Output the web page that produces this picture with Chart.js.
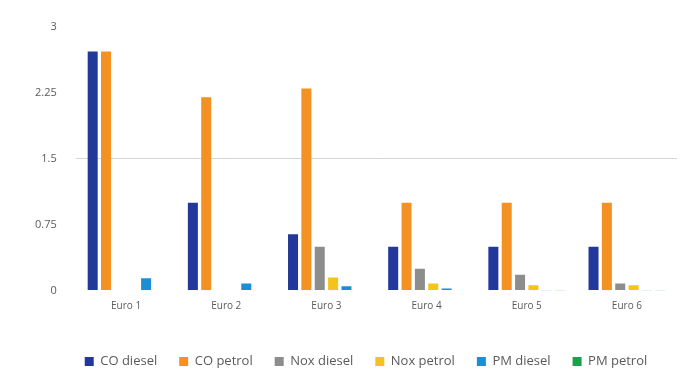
<!DOCTYPE html>
<html>
<head>
<meta charset="utf-8">
<script src="https://cdn.jsdelivr.net/npm/chart.js@4"></script>
<style>
	html, body { margin: 0; padding: 0; background: #ffffff; }
	canvas { display: block; }
</style>
</head>
<body>
<canvas id="Chart" width="696" height="382"></canvas>
<script>
var categories = ["Euro 1", "Euro 2", "Euro 3", "Euro 4", "Euro 5", "Euro 6"];
var yTicks = [0, 0.75, 1.5, 2.25, 3];
var yTickLabels = ["0", "0.75", "1.5", "2.25", "3"];

var coDiesel = [2.72, 1.0, 0.64, 0.5, 0.5, 0.5];
var coPetrol = [2.72, 2.2, 2.3, 1.0, 1.0, 1.0];
var noxDiesel = [null, null, 0.5, 0.25, 0.18, 0.08];
var noxPetrol = [null, null, 0.15, 0.08, 0.06, 0.06];
var pmDiesel = [0.14, 0.08, 0.05, 0.025, 0.005, 0.005];
var pmPetrol = [null, null, null, null, 0.005, 0.005];

var series = [
	{label: "CO diesel", data: coDiesel, color: "#22389a"},
	{label: "CO petrol", data: coPetrol, color: "#f39123"},
	{label: "Nox diesel", data: noxDiesel, color: "#8d8d8d"},
	{label: "Nox petrol", data: noxPetrol, color: "#f5c419"},
	{label: "PM diesel", data: pmDiesel, color: "#1b8ed6"},
	{label: "PM petrol", data: pmPetrol, color: "#1aa14a"}
];

var textColor = "#5a5a5a";
var family = "'Open Sans', 'DejaVu Sans', sans-serif";

new Chart(document.getElementById("Chart"), {
	type: "bar",
	data: {
		labels: categories,
		datasets: series.map(s => ({
			label: s.label,
			data: s.data,
			backgroundColor: s.color,
			borderColor: s.color,
			borderWidth: 0,
			categoryPercentage: 0.8,
			barPercentage: 0.75
		}))
	},
	options: {
		responsive: false,
		devicePixelRatio: 1,
		animation: false,
		layout: {padding: {left: 55, right: 19, top: 27, bottom: 4}},
		plugins: {
			tooltip: {enabled: false},
			legend: {
				position: "bottom",
				labels: {
					boxWidth: 9,
					boxHeight: 9,
					padding: 22,
					color: textColor,
					font: {family: family, size: 13}
				}
			}
		},
		scales: {
			x: {
				grid: {display: false, drawTicks: false},
				border: {display: false},
				ticks: {padding: 10, color: textColor, font: {family: family, size: 10}},
				title: {display: true, text: "", padding: {top: 2, bottom: 0}, font: {size: 7}}
			},
			y: {
				min: 0,
				max: 3,
				afterFit: (scale) => { scale.width = 21; },
				afterBuildTicks: (scale) => { scale.ticks = yTicks.map(v => ({value: v})); },
				border: {display: false},
				grid: {
					drawTicks: false,
					color: (ctx) => ctx.tick && ctx.tick.value === 1.5 ? "#d6d6d6" : "rgba(0,0,0,0)"
				},
				// mirrored so the labels are not clipped to the narrow axis box
				ticks: {
					mirror: true,
					crossAlign: "far",
					padding: -41,
					color: textColor,
					font: {family: family, size: 11},
					callback: (value) => yTickLabels[yTicks.indexOf(value)]
				}
			}
		}
	}
});
</script>
</body>
</html>
